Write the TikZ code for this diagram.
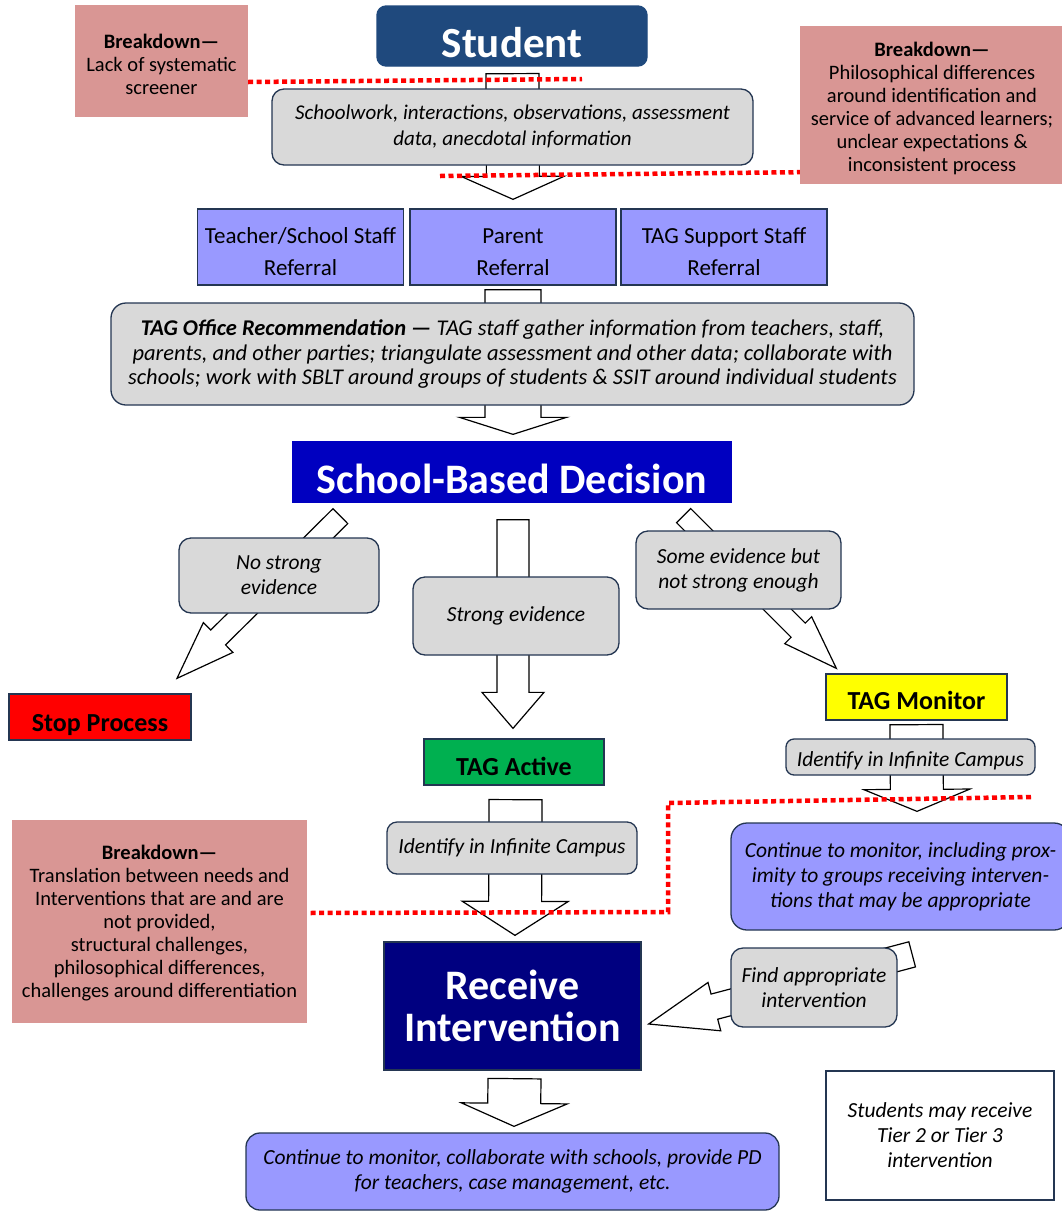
\documentclass[tikz,border=0pt]{standalone}
\usepackage{fontspec}
\setmainfont{Carlito}
\usetikzlibrary{calc}
\pgfdeclarelayer{bglayer}
\pgfdeclarelayer{arrowlayer}
\pgfsetlayers{bglayer,arrowlayer,main}
\definecolor{bdpink}{HTML}{D99694}
\definecolor{boxgray}{HTML}{D9D9D9}
\definecolor{lav}{HTML}{9999FF}
\definecolor{stublue}{HTML}{1F497D}
\definecolor{decblue}{HTML}{0000C0}
\definecolor{recnavy}{HTML}{000080}
\definecolor{edge}{HTML}{243652}
\definecolor{tagreen}{HTML}{00B050}
\definecolor{tagyellow}{HTML}{FFFF00}
\definecolor{dotred}{HTML}{FF0000}
\newcommand\blockarrow[5]{%
  \coordinate (bah) at ($(#2)!#5!(#1)$);
  \draw[blockarr] ($(#1)!#3!90:(#2)$) -- ($(bah)!#3!90:(#2)$) -- ($(bah)!#4!90:(#2)$) -- (#2)
    -- ($(bah)!#4!-90:(#2)$) -- ($(bah)!#3!-90:(#2)$) -- ($(#1)!#3!-90:(#2)$) -- cycle;}
\begin{document}
\begin{tikzpicture}[x=1pt,y=-1pt,
  blockarr/.style={draw=black, fill=white, line width=1.2pt, line join=miter},
  box/.style={draw=edge, line width=1.3pt, inner sep=0pt, align=center},
  graybox/.style={box, fill=boxgray, rounded corners=12pt},
  pinkbox/.style={inner sep=0pt, fill=bdpink},
  pinktext/.style={inner sep=0pt, align=center, font=\fontsize{20.5}{23}\selectfont},
  refbox/.style={box, fill=lav, minimum width=206, minimum height=76},
  reftext/.style={inner sep=0pt, align=center, font=\fontsize{23}{32}\selectfont},
  itext/.style={font=\fontsize{21.5}{25}\selectfont\itshape},
  tagbox/.style={box, minimum height=46, font=\fontsize{26}{26}\selectfont\bfseries, text height=26, text depth=0},
  redline/.style={draw=dotred, line width=4.5pt, dash pattern=on 5pt off 3.5pt},
]
\useasboundingbox (0,0) rectangle (1062,1211);
\clip (0,0) rectangle (1062,1211);
\begin{pgfonlayer}{bglayer}
\fill[white] (0,0) rectangle (1062,1211);
\end{pgfonlayer}

% ---------- nodes ----------
\node[box, fill=stublue, draw=stublue, rounded corners=9pt, minimum width=270, minimum height=60,
  text=white, font=\fontsize{43}{43}\selectfont\bfseries, text height=42, text depth=0] (student) at (512,36) {Student};
\node[pinkbox, minimum width=173, minimum height=112] (bdA) at (161.5,61) {};
\node[pinktext] at ($(bdA.center)+(0,3)$) {\textbf{Breakdown—}\\Lack of systematic\\screener};
\node[pinkbox, minimum width=262, minimum height=158] (bdB) at (931,105) {};
\node[pinktext] at ($(bdB.center)+(1,3)$) {\textbf{Breakdown—}\\Philosophical differences\\around identification and\\service of advanced learners;\\unclear expectations \&\\inconsistent process};
\node[graybox, font=\fontsize{21}{26}\selectfont\itshape, minimum width=481, minimum height=76] (work) at (512.5,127)
  {Schoolwork, interactions, observations, assessment\\data, anecdotal information};
\node[refbox] (ref1) at (300.5,247) {};
\node[reftext] at ($(ref1.center)+(0,5)$) {Teacher/School Staff\\Referral};
\node[refbox] (ref2) at (513,247) {};
\node[reftext] at ($(ref2.center)+(0,5)$) {Parent\\Referral};
\node[refbox] (ref3) at (724,247) {};
\node[reftext] at ($(ref3.center)+(0,5)$) {TAG Support Staff\\Referral};
\node[graybox, font=\fontsize{22.5}{24.5}\selectfont\itshape, minimum width=803, minimum height=102, rounded corners=15pt] (office) at (512.5,354)
  {\textbf{TAG Office Recommendation —} TAG staff gather information from teachers, staff,\\parents, and other parties; triangulate assessment and other data; collaborate with\\schools; work with SBLT around groups of students \& SSIT around individual students};
\node[box, fill=decblue, draw=decblue, text=white, minimum width=438, minimum height=60,
  font=\fontsize{42}{42}\selectfont\bfseries, text height=42, text depth=0] (decision) at (512,472) {School-Based Decision};
\node[graybox, itext, minimum width=200, minimum height=75] (nostrong) at (279,575.5) {No strong\\evidence};
\node[graybox, itext, minimum width=206, minimum height=78] (strong) at (516,616) {Strong evidence};
\node[graybox, itext, minimum width=205, minimum height=78] (some) at (738.5,570) {Some evidence but\\not strong enough};
\node[tagbox, fill=red, minimum width=182, text height=28] (stop) at (100,717) {Stop Process};
\node[tagbox, fill=tagreen, minimum width=180] (active) at (514,762) {TAG Active};
\node[tagbox, fill=tagyellow, minimum width=181, text height=24] (monitor) at (916.5,697) {TAG Monitor};
\node[graybox, itext, rounded corners=8pt, minimum width=249, minimum height=36, text height=19, text depth=0] (idR) at (910.5,757) {Identify in Infinite Campus};
\node[graybox, itext, rounded corners=10pt, minimum width=250, minimum height=52] (idM) at (512,848) {Identify in Infinite Campus};
\node[box, fill=lav, itext, rounded corners=16pt, minimum width=339, minimum height=107] (contR) at (900.5,876.5)
  {Continue to monitor, including prox-\\imity to groups receiving interven-\\tions that may be appropriate};
\node[pinkbox, minimum width=295, minimum height=203] (bdC) at (159.5,921.5) {};
\node[pinktext] at ($(bdC.center)+(0,2)$) {\textbf{Breakdown—}\\Translation between needs and\\Interventions that are and are\\not provided,\\structural challenges,\\philosophical differences,\\challenges around differentiation};
\node[box, fill=recnavy, draw=edge, text=white, minimum width=257, minimum height=128,
  font=\fontsize{42}{42}\selectfont\bfseries] (receive) at (512.5,1006) {Receive\\Intervention};
\node[graybox, itext, minimum width=166, minimum height=79] (find) at (814,987.5) {Find appropriate\\intervention};
\node[box, fill=lav, itext, rounded corners=14pt, minimum width=533, minimum height=77] (contB) at (512.5,1171.5)
  {Continue to monitor, collaborate with schools, provide PD\\for teachers, case management, etc.};
\node[box, fill=white, itext, minimum width=228, minimum height=129] (tier) at (940,1135.5)
  {Students may receive\\Tier 2 or Tier 3\\intervention};

% ---------- block arrows (behind boxes) ----------
\begin{pgfonlayer}{arrowlayer}
\coordinate (a1s) at ($(student.south)+(0.5,7)$);
\coordinate (a1e) at ($(ref2.north)+(0,-9)$);
\blockarrow{a1s}{a1e}{26.5pt}{51.5pt}{23pt}
\coordinate (a2s) at ($(ref2.south)+(0,4)$);
\coordinate (a2e) at ($(decision.north)+(1,-7)$);
\blockarrow{a2s}{a2e}{28pt}{53.5pt}{17pt}
\coordinate (a3s) at ($(decision.south west)+(48,13.5)$);
\coordinate (a3e) at ($(stop.north)+(77,-15)$);
\blockarrow{a3s}{a3e}{10.5pt}{21pt}{58pt}
\coordinate (a4s) at ($(decision.south)+(1,17)$);
\coordinate (a4e) at ($(active.north)+(-1,-10)$);
\blockarrow{a4s}{a4e}{16pt}{31pt}{36pt}
\coordinate (a5s) at ($(decision.south east)+(-48,13)$);
\coordinate (a5e) at ($(monitor.north west)+(11,-5)$);
\blockarrow{a5s}{a5e}{10pt}{19pt}{54pt}
\coordinate (a6s) at ($(monitor.south)+(0,4)$);
\coordinate (a6e) at ($(contR.north)+(16.5,-11)$);
\blockarrow{a6s}{a6e}{26.5pt}{53pt}{22pt}
\coordinate (a7s) at ($(active.south)+(1.5,14)$);
\coordinate (a7e) at ($(receive.north)+(2.5,-6)$);
\blockarrow{a7s}{a7e}{26.5pt}{53pt}{34pt}
\coordinate (a8s) at ($(receive.south)+(2,8)$);
\coordinate (a8e) at ($(contB.north)+(1.5,-6)$);
\blockarrow{a8s}{a8e}{26.5pt}{53pt}{23pt}
\coordinate (a9s) at ($(find.north east)+(14.5,7)$);
\coordinate (a9e) at ($(receive.east)+(7,18)$);
\blockarrow{a9s}{a9e}{13pt}{25pt}{68pt}
\end{pgfonlayer}

% ---------- red dotted breakdown lines ----------
\coordinate (r1e) at (582,79);
\draw[redline] ($(bdA.east)+(0,21)$) -- (r1e);
\coordinate (r2s) at (440,176);
\draw[redline] (r2s) -- ($(bdB.south west)+(0,-12)$);
\coordinate (r3a) at (1031,797);
\coordinate (r3b) at (668,803);
\draw[redline] (r3a) -- (r3b) -- (668,912) -- ($(bdC.east)+(0,-8.5)$);
\end{tikzpicture}
\end{document}
